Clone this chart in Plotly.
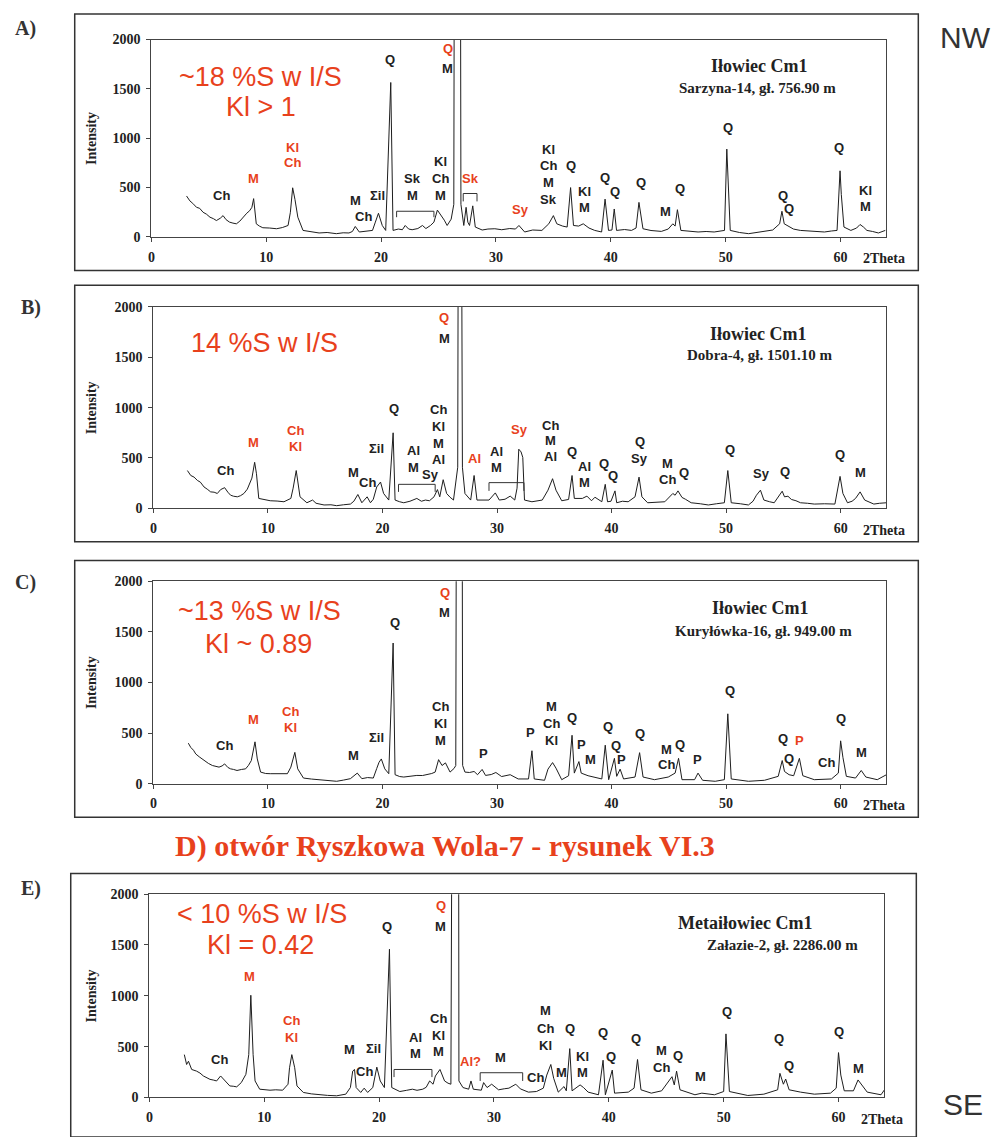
import plotly.graph_objects as go

W, H = 996, 1137
RED = "#e8411c"
INK = "#1e1e1e"


def px(x):
    return x / W


def py(y):
    return 1 - y / H


# ---------------- A) Sarzyna-14 ----------------
a_theta = [3.06, 3.35, 3.6, 3.93, 4.2, 4.5, 4.8, 5.1, 5.4, 5.66, 6.0, 6.24, 6.5, 6.8, 7.1, 7.4, 7.7, 7.98,
           8.3, 8.55, 8.75, 8.9, 9.13, 9.4, 9.7, 10.3, 10.9, 11.4, 11.9, 12.1, 12.3, 12.5, 12.75, 13.2,
           13.9, 14.6, 15.3, 16.1, 16.7, 17.2, 17.5, 17.75, 18.1, 18.7, 19.25, 19.5, 19.77, 20.1, 20.4,
           20.84, 21.04, 21.5, 21.85, 22.1, 22.4, 22.7, 23.2, 23.6, 23.9, 24.3, 24.6, 24.9, 25.1, 25.3,
           25.5, 25.75, 26.1, 26.33, 26.47, 26.82, 26.95, 27.2, 27.4, 27.55, 27.7, 27.98, 28.2, 28.8,
           29.3, 29.9, 30.5, 31.2, 31.7, 32.0, 32.5, 33.2, 34.0, 34.6, 35.0, 35.3, 35.8, 36.2, 36.5,
           36.75, 37.2, 37.6, 38.1, 38.6, 39.2, 39.5, 39.8, 40.1, 40.3, 40.5, 41.2, 41.8, 42.2, 42.45,
           42.8, 43.5, 44.4, 45.0, 45.4, 45.6, 45.8, 46.1, 46.8, 47.6, 48.3, 49.0, 49.9, 50.1, 50.4,
           51.2, 52.0, 52.7, 53.4, 54.1, 54.7, 54.9, 55.1, 55.4, 55.9, 56.5, 57.5, 58.6, 59.2, 59.7,
           59.96, 60.07, 60.3, 60.9, 61.4, 61.7, 62.0, 62.3, 62.8, 63.3, 63.9]
a_int = [415, 365, 340, 300, 290, 250, 230, 200, 185, 166, 190, 216, 175, 150, 140, 133, 160, 200,
         240, 265, 300, 388, 133, 110, 93, 90, 83, 95, 116, 250, 498, 380, 200, 66,
         55, 40, 45, 33, 42, 40, 55, 106, 50, 60, 66, 150, 240, 116, 66,
         1565, 66, 80, 73, 116, 80, 73, 85, 116, 85, 116, 150, 272, 240, 200,
         170, 116, 180, 330, 9000, 9000, 330, 116, 300, 150, 116, 315, 100, 70,
         80, 83, 73, 85, 80, 116, 50, 70, 66, 133, 216, 133, 110, 100, 500,
         116, 110, 133, 90, 66, 50, 383, 66, 70, 283, 66, 75, 66, 90, 350,
         83, 65, 56, 80, 133, 110, 276, 66, 60, 50, 55, 50, 66, 890, 66,
         45, 33, 45, 56, 70, 133, 260, 133, 116, 80, 66, 60, 50, 60, 66,
         670, 430, 100, 66, 90, 126, 100, 66, 55, 40, 66]
a_labels = [("Ch", 6.07, 420, "k"), ("M", 8.85, 590, "r"), ("Kl", 12.3, 910, "r"), ("Ch", 12.3, 750, "r"),
            ("M", 17.8, 370, "k"), ("Ch", 18.5, 210, "k"), ("Σil", 19.7, 420, "k"), ("Q", 20.8, 1800, "k"),
            ("Sk", 22.7, 590, "k"), ("M", 22.7, 420, "k"), ("Kl", 25.2, 760, "k"), ("Ch", 25.2, 590, "k"),
            ("M", 25.2, 420, "k"), ("Q", 25.8, 1910, "r"), ("M", 25.8, 1710, "k"), ("Sk", 27.8, 590, "r"),
            ("Sy", 32.1, 280, "r"), ("Kl", 34.6, 890, "k"), ("Ch", 34.6, 720, "k"), ("M", 34.6, 550, "k"),
            ("Sk", 34.6, 380, "k"), ("Q", 36.5, 720, "k"), ("Kl", 37.7, 460, "k"), ("M", 37.7, 300, "k"),
            ("Q", 39.5, 600, "k"), ("Q", 40.4, 460, "k"), ("Q", 42.6, 550, "k"), ("M", 44.8, 260, "k"),
            ("Q", 46.0, 490, "k"), ("Q", 50.2, 1110, "k"), ("Q", 55.0, 420, "k"), ("Q", 55.5, 290, "k"),
            ("Q", 59.9, 910, "k"), ("Kl", 62.2, 470, "k"), ("M", 62.2, 310, "k")]
a_brackets = [(21.35, 24.6, 260, 200), (27.15, 28.35, 440, 360)]

# ---------------- B) Dobra-4 ----------------
b_theta = [2.97, 3.26, 3.55, 3.84, 4.1, 4.42, 4.7, 5.0, 5.3, 5.58, 5.87, 6.22, 6.5, 6.74, 7.0, 7.33, 7.6,
           7.9, 8.2, 8.43, 8.6, 8.84, 9.0, 9.2, 9.7, 10.2, 10.8, 11.4, 12.0, 12.2, 12.47, 12.65, 12.8,
           13.4, 13.9, 14.2, 14.9, 15.5, 16.0, 16.6, 17.2, 17.5, 17.85, 18.2, 18.66, 18.95, 19.2, 19.5,
           19.83, 20.1, 20.55, 20.93, 21.1, 21.5, 21.86, 22.4, 23.0, 23.4, 23.75, 24.1, 24.5, 24.8, 25.0,
           25.3, 25.6, 25.9, 26.2, 26.57, 26.72, 26.98, 27.2, 27.7, 28.0, 28.25, 28.7, 29.3, 29.85, 30.2,
           30.7, 31.15, 31.55, 31.75, 31.9, 32.1, 32.25, 32.4, 33.05, 33.95, 34.45, 34.85, 35.15, 35.65,
           36.25, 36.55, 36.75, 37.15, 37.45, 37.85, 38.25, 38.55, 39.15, 39.45, 39.65, 39.95, 40.3,
           40.45, 40.95, 41.45, 42.05, 42.4, 42.65, 43.15, 43.85, 44.65, 45.35, 45.55, 45.8, 46.15,
           46.45, 46.95, 47.75, 48.45, 49.15, 49.85, 50.15, 50.45, 51.25, 51.95, 52.35, 52.65, 53.0,
           53.3, 53.8, 54.2, 54.9, 55.1, 55.4, 55.7, 56.1, 56.5, 57.1, 57.7, 58.6, 59.5, 59.95, 60.2,
           60.6, 61.0, 61.3, 61.7, 62.1, 62.5, 62.9, 63.4, 64.0]
b_int = [375, 326, 310, 277, 260, 212, 190, 163, 160, 147, 186, 205, 160, 130, 120, 114, 125,
         147, 190, 245, 300, 457, 343, 98, 85, 75, 72, 65, 98, 200, 375, 250, 114,
         55, 82, 50, 33, 35, 26, 35, 42, 70, 137, 55, 114, 55, 90, 212,
         261, 147, 82, 750, 82, 65, 55, 70, 98, 70, 82, 75, 114, 186, 114,
         284, 147, 110, 82, 408, 9000, 408, 147, 82, 326, 82, 82, 82, 153, 82,
         90, 121, 82, 200, 587, 560, 505, 82, 65, 82, 180, 294, 180, 75,
         88, 326, 98, 95, 98, 121, 75, 110, 65, 238, 65, 70, 173,
         55, 70, 65, 114, 310, 114, 55, 60, 65, 147, 130, 173, 108,
         90, 55, 45, 33, 45, 55, 375, 55, 45, 33, 70, 130, 180,
         82, 65, 55, 170, 114, 120, 88, 75, 55, 50, 42, 45, 42, 317, 147,
         55, 70, 98, 163, 82, 60, 42, 50, 55]
b_labels = [("Ch", 6.3, 380, "k"), ("M", 8.7, 650, "r"), ("Ch", 12.4, 775, "r"), ("Kl", 12.4, 610, "r"),
            ("M", 17.5, 360, "k"), ("Ch", 18.7, 260, "k"), ("Σil", 19.5, 590, "k"), ("Q", 21.0, 990, "k"),
            ("Al", 22.7, 570, "k"), ("M", 22.7, 408, "k"), ("Sy", 24.2, 336, "k"), ("Ch", 24.9, 980, "k"),
            ("Kl", 24.9, 816, "k"), ("M", 24.9, 646, "k"), ("Al", 24.9, 480, "k"), ("Q", 25.4, 1900, "r"),
            ("M", 25.4, 1690, "k"), ("Al", 28.0, 490, "r"), ("Al", 29.95, 565, "k"), ("M", 29.95, 408, "k"),
            ("Sy", 31.95, 783, "r"), ("Ch", 34.65, 825, "k"), ("M", 34.65, 670, "k"), ("Al", 34.65, 512, "k"),
            ("Q", 36.55, 565, "k"), ("Al", 37.65, 418, "k"), ("M", 37.65, 261, "k"), ("Q", 39.35, 447, "k"),
            ("Q", 40.15, 326, "k"), ("Q", 42.45, 662, "k"), ("Sy", 42.45, 490, "k"), ("M", 44.85, 447, "k"),
            ("Ch", 44.85, 284, "k"), ("Q", 46.35, 359, "k"), ("Q", 50.35, 580, "k"), ("Sy", 53.05, 349, "k"),
            ("Q", 55.15, 365, "k"), ("Q", 59.95, 532, "k"), ("M", 61.75, 352, "k")]
b_brackets = [(21.4, 24.6, 238, 163), (29.3, 32.35, 255, 173)]

# ---------------- C) Kurylowka-16 ----------------
c_theta = [3.05, 3.26, 3.5, 3.7, 4.0, 4.42, 4.8, 5.15, 5.45, 5.73, 6.0, 6.22, 6.5, 6.74, 7.0, 7.3, 7.7,
           8.05, 8.3, 8.55, 8.87, 9.07, 9.36, 9.8, 10.2, 10.9, 11.7, 12.0, 12.35, 12.6, 13.1, 13.8, 14.6,
           15.3, 16.0, 16.6, 17.2, 17.8, 18.2, 18.7, 19.2, 19.5, 19.7, 19.9, 20.2, 20.55, 20.93, 21.1,
           21.5, 21.86, 22.4, 23.0, 23.5, 23.9, 24.3, 24.6, 24.9, 25.2, 25.5, 25.9, 26.25, 26.4, 26.57,
           26.86, 27.0, 27.2, 27.6, 28.0, 28.3, 28.7, 29.0, 29.5, 29.9, 30.4, 31.15, 31.85, 32.75, 33.05,
           33.25, 34.15, 34.45, 34.85, 35.15, 35.65, 36.25, 36.55, 36.75, 37.15, 37.35, 37.95, 38.55,
           39.15, 39.45, 39.75, 40.25, 40.45, 40.75, 41.05, 42.05, 42.45, 42.75, 43.75, 44.95, 45.55,
           45.85, 46.15, 47.25, 47.55, 47.95, 49.05, 49.85, 50.15, 50.45, 51.95, 53.35, 54.55, 54.9,
           55.1, 55.5, 55.9, 56.4, 56.7, 57.7, 59.2, 59.8, 60.0, 60.2, 60.5, 61.3, 61.8, 62.2, 63.2, 64.0]
c_int = [400, 358, 330, 293, 265, 228, 200, 179, 170, 163, 175, 195, 160, 146, 140, 130, 140,
         146, 180, 228, 413, 244, 114, 100, 98, 95, 98, 163, 309, 146, 55, 45, 39,
         30, 23, 35, 49, 104, 49, 60, 55, 150, 211, 244, 146, 98, 1390, 88,
         70, 65, 75, 81, 80, 88, 100, 114, 237, 179, 205, 114, 150, 179, 9000,
         9000, 179, 114, 110, 120, 88, 140, 81, 90, 110, 70, 88, 46, 46, 325,
         46, 33, 143, 208, 153, 39, 78, 478, 104, 218, 104, 78, 60,
         46, 380, 39, 250, 72, 143, 46, 65, 306, 65, 39, 65, 104,
         250, 39, 39, 104, 33, 23, 39, 690, 46, 23, 33, 72, 228,
         120, 88, 78, 250, 78, 39, 46, 104, 423, 260, 72, 55, 130, 65, 39, 88]
c_labels = [("Ch", 6.2, 380, "k"), ("M", 8.7, 634, "r"), ("Ch", 12.0, 715, "r"), ("Kl", 12.0, 553, "r"),
            ("M", 17.5, 276, "k"), ("Σil", 19.5, 455, "k"), ("Q", 21.1, 1593, "k"), ("Ch", 25.1, 758, "k"),
            ("Kl", 25.1, 592, "k"), ("M", 25.1, 423, "k"), ("Q", 25.5, 1893, "r"), ("M", 25.4, 1690, "k"),
            ("P", 28.8, 299, "k"), ("P", 32.95, 510, "k"), ("M", 34.8, 760, "k"), ("Ch", 34.8, 592, "k"),
            ("Kl", 34.8, 423, "k"), ("Q", 36.55, 657, "k"), ("P", 37.35, 390, "k"), ("M", 38.15, 234, "k"),
            ("Q", 39.7, 566, "k"), ("Q", 40.4, 380, "k"), ("P", 40.9, 240, "k"), ("Q", 42.45, 500, "k"),
            ("M", 44.8, 338, "k"), ("Ch", 44.8, 185, "k"), ("Q", 46.0, 390, "k"), ("P", 47.5, 240, "k"),
            ("Q", 50.3, 917, "k"), ("Q", 55.0, 445, "k"), ("Q", 55.5, 244, "k"), ("P", 56.4, 423, "r"),
            ("Ch", 58.8, 211, "k"), ("Q", 60.0, 641, "k"), ("M", 61.8, 306, "k")]
c_brackets = []

# ---------------- E) Zalazie-2 ----------------
e_theta = [3.04, 3.24, 3.4, 3.68, 4.1, 4.4, 4.7, 5.0, 5.27, 5.6, 5.85, 6.2, 6.57, 7.0, 7.3, 7.6, 8.0, 8.4,
           8.65, 8.83, 9.03, 9.2, 9.6, 10.0, 10.5, 11.0, 11.6, 12.07, 12.2, 12.4, 12.65, 12.85, 13.4,
           14.1, 14.8, 15.5, 16.3, 17.1, 17.5, 17.7, 17.86, 18.0, 18.4, 18.7, 19.0, 19.45, 19.8, 20.1,
           20.46, 20.9, 21.1, 21.8, 22.4, 22.9, 23.3, 23.8, 24.1, 24.4, 24.7, 24.9, 25.3, 25.7, 26.0,
           26.25, 26.54, 26.86, 26.95, 27.3, 27.8, 28.0, 28.2, 28.9, 29.1, 29.4, 29.8, 30.4, 30.9,
           31.3, 31.9, 32.3, 33.0, 33.7, 34.3, 34.6, 34.95, 35.2, 35.6, 36.1, 36.3, 36.6, 36.8, 37.5,
           37.8, 38.2, 39.1, 39.5, 39.7, 40.3, 40.5, 41.7, 42.2, 42.5, 42.8, 43.7, 44.6, 45.2, 45.5,
           45.7, 45.9, 46.2, 47.5, 48.1, 49.2, 50.0, 50.2, 50.5, 52.1, 53.5, 54.7, 54.9, 55.2, 55.4,
           55.7, 56.7, 57.9, 59.3, 59.8, 60.0, 60.2, 60.5, 61.3, 61.7, 62.1, 62.5, 63.7, 64.0]
e_int = [421, 324, 356, 275, 259, 240, 211, 195, 178, 170, 162, 211, 162, 113, 110, 104, 146, 227,
         421, 1005, 421, 162, 81, 75, 71, 75, 71, 130, 292, 421, 292, 113, 49,
         35, 26, 20, 16, 32, 97, 259, 275, 97, 49, 91, 49, 97, 298, 162,
         97, 1458, 97, 58, 70, 81, 70, 81, 100, 162, 130, 211, 275, 162, 140,
         130, 9000, 9000, 162, 97, 81, 162, 81, 71, 146, 97, 130, 75, 85,
         91, 130, 84, 52, 58, 91, 220, 324, 188, 52, 107, 65, 480, 65, 123,
         97, 52, 26, 366, 26, 269, 42, 52, 91, 373, 75, 42, 65, 156, 204,
         123, 259, 75, 26, 42, 26, 58, 625, 58, 19, 32, 75, 237, 130, 181,
         75, 52, 32, 42, 91, 441, 220, 65, 65, 172, 107, 52, 26, 75]
e_labels = [("Ch", 6.1, 373, "k"), ("M", 8.7, 1193, "r"), ("Ch", 12.4, 755, "r"), ("Kl", 12.4, 590, "r"),
            ("M", 17.4, 470, "k"), ("Ch", 18.7, 253, "k"), ("Σil", 19.5, 486, "k"), ("Q", 20.7, 1685, "k"),
            ("Al", 23.2, 590, "k"), ("M", 23.2, 428, "k"), ("Ch", 25.2, 778, "k"), ("Kl", 25.2, 609, "k"),
            ("M", 25.2, 447, "k"), ("Q", 25.4, 1886, "r"), ("M", 25.35, 1685, "k"), ("Al?", 28.0, 350, "r"),
            ("M", 30.6, 389, "k"), ("Ch", 33.6, 194, "k"), ("M", 34.5, 852, "k"), ("Ch", 34.5, 681, "k"),
            ("Kl", 34.5, 512, "k"), ("M", 35.9, 243, "k"), ("Q", 36.6, 681, "k"), ("Kl", 37.7, 405, "k"),
            ("M", 37.7, 243, "k"), ("Q", 39.5, 642, "k"), ("Q", 40.2, 399, "k"), ("Q", 42.4, 583, "k"),
            ("M", 44.6, 457, "k"), ("Ch", 44.6, 295, "k"), ("Q", 46.0, 408, "k"), ("M", 48.0, 204, "k"),
            ("Q", 50.3, 843, "k"), ("Q", 54.8, 577, "k"), ("Q", 55.7, 318, "k"), ("Q", 60.0, 648, "k"),
            ("M", 61.7, 285, "k")]
e_brackets = [(21.3, 24.6, 275, 200), (28.8, 32.5, 243, 162)]

x_ticks = [0, 10, 20, 30, 40, 50, 60]
y_ticks = [0, 500, 1000, 1500, 2000]

# panel geometry (pixels): plot area, outer frame, letter position, notes, titles
panels = [
    dict(name="A)", theta=a_theta, inten=a_int, labels=a_labels, brackets=a_brackets,
         plot=(148, 33, 886, 233), frame=(71, 7, 918, 267), letter=(22, 22),
         notes=[("~18 %S w I/S", 258, 71), ("Kl > 1", 258, 101)],
         title=("Iłowiec Cm1", 758, 60), sub=("Sarzyna-14, gł. 756.90 m", 757, 82)),
    dict(name="B)", theta=b_theta, inten=b_int, labels=b_labels, brackets=b_brackets,
         plot=(150, 304, 886, 508), frame=(71, 282, 918, 542), letter=(27, 305),
         notes=[("14 %S w I/S", 262, 340)],
         title=("Iłowiec Cm1", 757, 331), sub=("Dobra-4, gł. 1501.10 m", 759, 353)),
    dict(name="C)", theta=c_theta, inten=c_int, labels=c_labels, brackets=c_brackets,
         plot=(150, 582, 886, 787), frame=(71, 561, 918, 821), letter=(22, 583),
         notes=[("~13 %S w I/S", 257, 612), ("Kl ~ 0.89", 256, 646)],
         title=("Iłowiec Cm1", 759, 609), sub=("Kuryłówka-16, gł. 949.00 m", 763, 632)),
    dict(name="E)", theta=e_theta, inten=e_int, labels=e_labels, brackets=e_brackets,
         plot=(146, 899, 884, 1105), frame=(67, 878, 916, 1145), letter=(27, 893),
         notes=[("&lt; 10 %S w I/S", 259, 919), ("Kl = 0.42", 258, 951)],
         title=("Metaiłowiec Cm1", 744, 928), sub=("Załazie-2, gł. 2286.00 m", 782, 951)),
]

SERIF = "Liberation Serif"
SANS = "Liberation Sans"


def paper_text(txt, x, y, font, **kw):
    return dict(text=txt, xref="paper", yref="paper", x=px(x), y=py(y), showarrow=False,
                xanchor="center", yanchor="middle", font=font, **kw)


fig = go.Figure()
annotations = []
shapes = []
layout_axes = {}

for i, p in enumerate(panels, start=1):
    sfx = "" if i == 1 else str(i)
    xa, ya = "x" + sfx, "y" + sfx
    x0, y0, x1, y1 = p["plot"]

    fig.add_trace(go.Scatter(x=p["theta"], y=p["inten"], mode="lines",
                             line=dict(color=INK, width=1), xaxis=xa, yaxis=ya,
                             showlegend=False, hoverinfo="skip"))

    common = dict(showline=True, mirror=True, linecolor="#444", linewidth=1,
                  ticks="outside", ticklen=4, tickcolor="#444", showgrid=False,
                  zeroline=False, fixedrange=True,
                  tickfont=dict(family=SERIF, size=14, color="#222", weight="bold"))
    layout_axes["xaxis" + sfx] = dict(common, domain=[px(x0), px(x1)], range=[0, 64],
                                      tickvals=x_ticks, anchor=ya, ticklabelstandoff=3)
    layout_axes["yaxis" + sfx] = dict(common, domain=[py(y1), py(y0)], range=[0, 2000],
                                      tickvals=y_ticks, anchor=xa, ticklabelstandoff=3)

    # outer frame
    fx0, fy0, fx1, fy1 = p["frame"]
    shapes.append(dict(type="rect", xref="paper", yref="paper",
                       x0=px(fx0), x1=px(fx1), y0=py(fy1), y1=py(fy0),
                       line=dict(color="#333", width=1.5)))

    # panel letter
    lx, ly = p["letter"]
    annotations.append(paper_text("<b>%s</b>" % p["name"], lx, ly,
                                  dict(family=SERIF, size=20, color="#333")))
    # axis captions
    annotations.append(paper_text("<b>Intensity</b>", 88, (y0 + y1) / 2,
                                  dict(family=SERIF, size=14, color="#222"), textangle=-90))
    annotations.append(paper_text("<b>2Theta</b>", x1 - 2, y1 + 22,
                                  dict(family=SERIF, size=14, color="#222")))

    # red summary notes
    for txt, nx, ny in p["notes"]:
        annotations.append(paper_text(txt, nx, ny, dict(family=SANS, size=27, color=RED)))
    # sample title
    t, tx, ty = p["title"]
    annotations.append(paper_text("<b>%s</b>" % t, tx, ty, dict(family=SERIF, size=18, color="#222")))
    s, sx, sy = p["sub"]
    annotations.append(paper_text("<b>%s</b>" % s, sx, sy, dict(family=SERIF, size=15, color="#222")))

    # mineral labels on the peaks
    for txt, lx2, ly2, col in p["labels"]:
        annotations.append(dict(text="<b>%s</b>" % txt, xref=xa, yref=ya, x=lx2, y=ly2,
                                showarrow=False, xanchor="center", yanchor="middle",
                                font=dict(family=SANS, size=13, color=RED if col == "r" else "#222")))
    # brackets spanning peak groups
    for bx0, bx1, btop, bend in p["brackets"]:
        shapes.append(dict(type="path", xref=xa, yref=ya,
                           path="M %g,%g L %g,%g L %g,%g L %g,%g" % (bx0, bend, bx0, btop, bx1, btop, bx1, bend),
                           line=dict(color="#333", width=1)))

# heading for the section without a chart
annotations.append(paper_text("<b>D) otwór Ryszkowa Wola-7 - rysunek VI.3</b>", 443, 850,
                              dict(family=SERIF, size=30, color=RED)))
# orientation marks
annotations.append(paper_text("NW", 965, 31, dict(family=SANS, size=30, color="#333")))
annotations.append(paper_text("SE", 963, 1112, dict(family=SANS, size=30, color="#333")))

fig.update_layout(width=W, height=H, margin=dict(l=0, r=0, t=0, b=0),
                  paper_bgcolor="white", plot_bgcolor="white",
                  annotations=annotations, shapes=shapes, **layout_axes)

fig.write_html("out.html", include_plotlyjs=True, config={"displayModeBar": False})
